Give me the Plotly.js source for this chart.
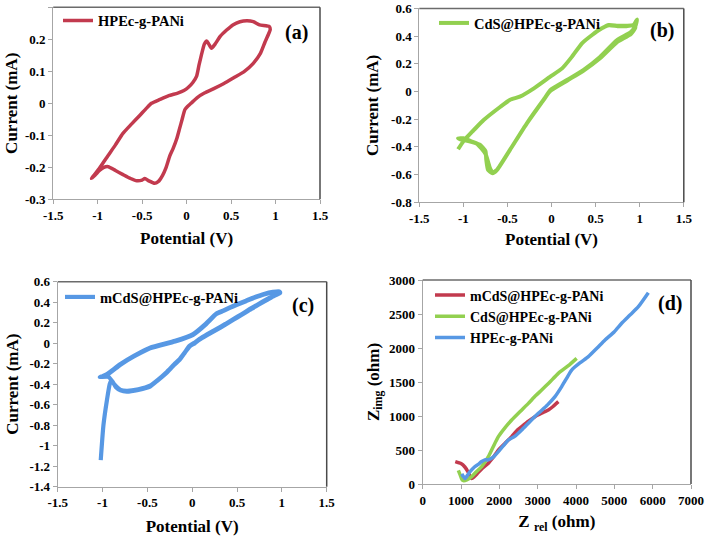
<!DOCTYPE html>
<html>
<head>
<meta charset="utf-8">
<script src="https://cdn.plot.ly/plotly-3.0.1.min.js"></script>
<style>html,body{margin:0;padding:0;background:#fff;}#chart{width:709px;height:537px;}</style>
</head>
<body>
<div id="chart"></div>
<script>
// ---------- data ----------
// (a) HPEc-g-PANi cyclic voltammogram
const aName = 'HPEc-g-PANi';
const aPotential = [-1.07,-0.98,-0.9,-0.8,-0.716,-0.62,-0.527,-0.45,-0.395,-0.3,-0.2,-0.1,-0.03,0.02,0.07,0.113,0.14,0.17,0.2,0.226,0.25,0.28,0.32,0.38,0.45,0.52,0.6,0.68,0.75,0.82,0.93,0.94,
  0.93,0.88,0.83,0.75,0.65,0.53,0.42,0.3,0.2,0.12,0.05,0.01,-0.02,-0.05,-0.08,-0.11,-0.15,-0.19,-0.23,-0.27,-0.32,-0.36,-0.42,-0.47,-0.5,-0.56,-0.63,-0.72,-0.8,-0.88,-0.93,-0.98,-1.03,-1.07];
const aCurrent = [-0.235,-0.203,-0.17,-0.13,-0.094,-0.065,-0.038,-0.015,0.0,0.012,0.024,0.032,0.04,0.05,0.065,0.085,0.12,0.155,0.185,0.195,0.185,0.172,0.185,0.21,0.229,0.245,0.255,0.258,0.255,0.245,0.24,0.23,
  0.222,0.19,0.156,0.125,0.1,0.08,0.062,0.045,0.032,0.018,0.0,-0.01,-0.02,-0.05,-0.08,-0.11,-0.14,-0.165,-0.2,-0.225,-0.245,-0.25,-0.243,-0.235,-0.24,-0.242,-0.235,-0.222,-0.21,-0.198,-0.2,-0.21,-0.225,-0.235];

// (b) CdS@HPEc-g-PANi cyclic voltammogram (two cycles)
const bName = 'CdS@HPEc-g-PANi';
const bPotential = [-1.06,-1.0,-0.9,-0.77,-0.58,-0.47,-0.36,-0.2,-0.015,0.12,0.23,0.345,0.46,0.57,0.65,0.75,0.85,0.93,0.97,0.95,
  0.9,0.74,0.55,0.36,0.175,-0.015,-0.09,-0.28,-0.47,-0.62,-0.67,-0.72,-0.74,-0.75,-0.81,-0.9,-1.0,-1.06,
  -1.0,-0.9,-0.77,-0.58,-0.47,-0.36,-0.2,-0.015,0.12,0.23,0.345,0.46,0.57,0.65,0.75,0.85,0.94,0.95,
  0.9,0.74,0.55,0.36,0.175,-0.015,-0.09,-0.28,-0.47,-0.62,-0.67,-0.7,-0.75,-0.85,-1.0];
const bCurrent = [-0.417,-0.36,-0.29,-0.206,-0.11,-0.06,-0.037,0.023,0.107,0.167,0.25,0.348,0.408,0.456,0.48,0.475,0.475,0.48,0.52,0.47,
  0.43,0.37,0.25,0.155,0.083,0.01,-0.06,-0.23,-0.42,-0.567,-0.59,-0.567,-0.495,-0.43,-0.386,-0.362,-0.338,-0.338,
  -0.35,-0.29,-0.206,-0.11,-0.06,-0.037,0.023,0.107,0.167,0.25,0.348,0.408,0.456,0.478,0.472,0.472,0.478,0.46,
  0.415,0.355,0.24,0.15,0.078,0.003,-0.06,-0.23,-0.42,-0.567,-0.585,-0.55,-0.45,-0.375,-0.35];

// (c) mCdS@HPEc-g-PANi cyclic voltammogram
const cName = 'mCdS@HPEc-g-PANi';
const cPotential = [-1.02,-0.99,-0.95,-0.92,-0.9,-0.85,-0.8,-0.73,-0.6,-0.47,-0.38,-0.29,-0.2,-0.14,-0.08,-0.03,0.03,0.08,0.17,0.27,0.37,0.46,0.55,0.64,0.73,0.83,0.92,0.98,0.98,
  0.9,0.8,0.7,0.6,0.5,0.42,0.35,0.27,0.15,0.01,-0.19,-0.47,-0.65,-0.8,-0.95,-1.03,-0.93,-0.87,-0.8,
  -0.73,-0.6,-0.47,-0.38,-0.29,-0.2,-0.14,-0.08,-0.03,0.03,0.08,0.17,0.27,0.37,0.46,0.55,0.64,0.73,0.83,0.92,0.98,0.97,
  0.9,0.8,0.7,0.6,0.5,0.42,0.35,0.27,0.15,0.01,-0.19,-0.47,-0.65,-0.8,-0.95,-1.0];
const cCurrent = [-1.14,-0.8,-0.55,-0.4,-0.36,-0.43,-0.46,-0.472,-0.455,-0.423,-0.36,-0.293,-0.21,-0.163,-0.09,-0.033,0.0,0.033,0.08,0.13,0.18,0.228,0.275,0.325,0.37,0.42,0.465,0.488,0.5,
  0.495,0.475,0.445,0.41,0.375,0.345,0.315,0.285,0.18,0.081,0.016,-0.05,-0.13,-0.21,-0.31,-0.33,-0.33,-0.4,-0.455,
  -0.465,-0.45,-0.415,-0.355,-0.285,-0.205,-0.155,-0.085,-0.025,0.008,0.04,0.088,0.138,0.188,0.236,0.283,0.332,0.378,0.428,0.47,0.492,0.505,
  0.5,0.48,0.45,0.415,0.38,0.35,0.32,0.29,0.19,0.09,0.024,-0.043,-0.123,-0.203,-0.3,-0.322];

// (d) Nyquist plots
const dRedName = 'mCdS@HPEc-g-PANi';
const dRedZrel = [850,1000,1100,1180,1240,1280,1350,1420,1550,1713,1850,1974,2150,2322,2450,2583,2750,2930,3100,3278,3400,3540];
const dRedZimg = [330,300,250,180,110,80,110,150,230,304,400,500,600,696,780,843,920,990,1040,1088,1140,1211];
const dGreenName = 'CdS@HPEc-g-PANi';
const dGreenZrel = [930,980,1020,1061,1150,1278,1400,1539,1713,1850,1974,2150,2322,2550,2757,2950,3104,3300,3539,3800,4017];
const dGreenZimg = [200,130,70,49,60,108,180,255,402,560,696,830,941,1070,1186,1300,1382,1490,1627,1740,1848];
const dBlueName = 'HPEc-g-PANi';
const dBlueZrel = [1020,1060,1104,1170,1235,1350,1450,1539,1620,1713,1850,1974,2100,2235,2400,2583,2800,3017,3250,3452,3626,3750,3887,4100,4322,4550,4757,5000,5191,5400,5626,5887];
const dBlueZimg = [150,110,80,130,181,250,290,330,355,355,400,475,560,647,700,794,920,1039,1160,1284,1431,1550,1676,1780,1873,2000,2118,2240,2363,2480,2608,2814];

// tick labels
const potTickVals = [-1.5,-1,-0.5,0,0.5,1,1.5];
const potTickText = ['-1.5','-1','-0.5','0','0.5','1','1.5'];
const aCurTickVals = [-0.3,-0.2,-0.1,0,0.1,0.2,0.3];
const aCurTickText = ['-0.3','-0.2','-0.1','0','0.1','0.2','0.3'];
const bCurTickVals = [-0.8,-0.6,-0.4,-0.2,0,0.2,0.4,0.6];
const bCurTickText = ['-0.8','-0.6','-0.4','-0.2','0','0.2','0.4','0.6'];
const cCurTickVals = [-1.4,-1.2,-1,-0.8,-0.6,-0.4,-0.2,0,0.2,0.4,0.6];
const cCurTickText = ['-1.4','-1.2','-1','-0.8','-0.6','-0.4','-0.2','0','0.2','0.4','0.6'];
const zrelTickVals = [0,1000,2000,3000,4000,5000,6000,7000];
const zimgTickVals = [0,500,1000,1500,2000,2500,3000];
const panelLabels = ['(a)','(b)','(c)','(d)'];

// ---------- style ----------
const RED = '#c23a4e', GREEN = '#92d050', BLUE = '#5798e4';
const FONT = 'Liberation Serif, Times New Roman, serif';
const tickFont = {family: FONT, size: 13, color: '#000', weight: 'bold'};
const titleFont = {family: FONT, size: 17, color: '#000', weight: 'bold'};

function xax(domain, anchor, range, vals, text, title, standoff) {
  return {domain: domain, anchor: anchor, range: range, tickmode: 'array', tickvals: vals, ticktext: text,
    showgrid: false, zeroline: false, showline: true, linecolor: '#a6a6a6', linewidth: 1,
    ticks: 'outside', ticklen: 4, tickcolor: '#a6a6a6', tickfont: tickFont,
    title: {text: title, font: titleFont, standoff: standoff}, fixedrange: true};
}
const yax = xax;

const traces = [
  {x: aPotential, y: aCurrent, xaxis: 'x', yaxis: 'y', mode: 'lines', name: aName, legend: 'legend',
   line: {color: RED, width: 3.5, shape: 'spline', smoothing: 0.5}},
  {x: bPotential, y: bCurrent, xaxis: 'x2', yaxis: 'y2', mode: 'lines', name: bName, legend: 'legend2',
   line: {color: GREEN, width: 4, shape: 'spline', smoothing: 0.5}},
  {x: cPotential, y: cCurrent, xaxis: 'x3', yaxis: 'y3', mode: 'lines', name: cName, legend: 'legend3',
   line: {color: BLUE, width: 4.2, shape: 'spline', smoothing: 0.5}},
  {x: dRedZrel, y: dRedZimg, xaxis: 'x4', yaxis: 'y4', mode: 'lines', name: dRedName, legend: 'legend4',
   line: {color: RED, width: 3.5, shape: 'spline', smoothing: 0.5}},
  {x: dGreenZrel, y: dGreenZimg, xaxis: 'x4', yaxis: 'y4', mode: 'lines', name: dGreenName, legend: 'legend4',
   line: {color: GREEN, width: 3.5, shape: 'spline', smoothing: 0.5}},
  {x: dBlueZrel, y: dBlueZimg, xaxis: 'x4', yaxis: 'y4', mode: 'lines', name: dBlueName, legend: 'legend4',
   line: {color: BLUE, width: 3.5, shape: 'spline', smoothing: 0.5}}
];

const W = 709, H = 537;
const px = v => v / W, py = v => 1 - v / H;

function legendAt(xp, yp, size) {
  return {x: px(xp), y: py(yp), xanchor: 'left', yanchor: 'top', bgcolor: 'rgba(0,0,0,0)',
    font: {family: FONT, size: size, color: '#000', weight: 'bold'}, itemwidth: 30, tracegroupgap: 0, borderwidth: 0};
}

function border(xr, yr) {
  return [
    {type: 'line', xref: xr + ' domain', yref: yr + ' domain', x0: 0, x1: 1, y0: 1, y1: 1, line: {color: '#6b6b6b', width: 1.5}},
    {type: 'line', xref: xr + ' domain', yref: yr + ' domain', x0: 1, x1: 1, y0: 0, y1: 1, line: {color: '#4a4a4a', width: 1.5}}
  ];
}

const layout = {
  width: W, height: H, margin: {l: 0, r: 0, t: 0, b: 0},
  paper_bgcolor: '#fff', plot_bgcolor: '#fff', showlegend: true,
  font: {family: FONT},
  xaxis: xax([px(53.2), px(320)], 'y', [-1.5, 1.5], potTickVals, potTickText, 'Potential (V)', 10),
  yaxis: yax([py(199.3), py(7.3)], 'x', [-0.3, 0.3], aCurTickVals, aCurTickText, 'Current (mA)', 3),
  xaxis2: xax([px(419.3), px(683.8)], 'y2', [-1.5, 1.5], potTickVals, potTickText, 'Potential (V)', 8),
  yaxis2: yax([py(202.3), py(8.4)], 'x2', [-0.8, 0.6], bCurTickVals, bCurTickText, 'Current (mA)', 8),
  xaxis3: xax([px(57.7), px(326.7)], 'y3', [-1.5, 1.5], potTickVals, potTickText, 'Potential (V)', 10),
  yaxis3: yax([py(486.7), py(281.7)], 'x3', [-1.4, 0.6], cCurTickVals, cCurTickText, 'Current (mA)', 6),
  xaxis4: xax([px(422.7), px(691)], 'y4', [0, 7000], zrelTickVals, zrelTickVals.map(String), 'Z <sub>rel</sub> (ohm)', 8),
  yaxis4: yax([py(484), py(280)], 'x4', [0, 3000], zimgTickVals, zimgTickVals.map(String), 'Z<sub>img</sub> (ohm)', 5),
  legend: legendAt(58, 4.5, 14.5),
  legend2: legendAt(434, 7, 14.5),
  legend3: legendAt(60, 281, 14.5),
  legend4: legendAt(430, 279.5, 14),
  shapes: [].concat(border('x', 'y'), border('x2', 'y2'), border('x3', 'y3'), border('x4', 'y4')),
  annotations: [
    {text: panelLabels[0], x: px(296), y: py(32)},
    {text: panelLabels[1], x: px(662), y: py(30)},
    {text: panelLabels[2], x: px(303), y: py(305)},
    {text: panelLabels[3], x: px(670), y: py(303)}
  ].map(a => Object.assign(a, {xref: 'paper', yref: 'paper', showarrow: false, xanchor: 'center', yanchor: 'middle',
    font: {family: FONT, size: 20, color: '#000', weight: 'bold'}}))
};

Plotly.newPlot('chart', traces, layout, {staticPlot: true, displayModeBar: false});
</script>
</body>
</html>
